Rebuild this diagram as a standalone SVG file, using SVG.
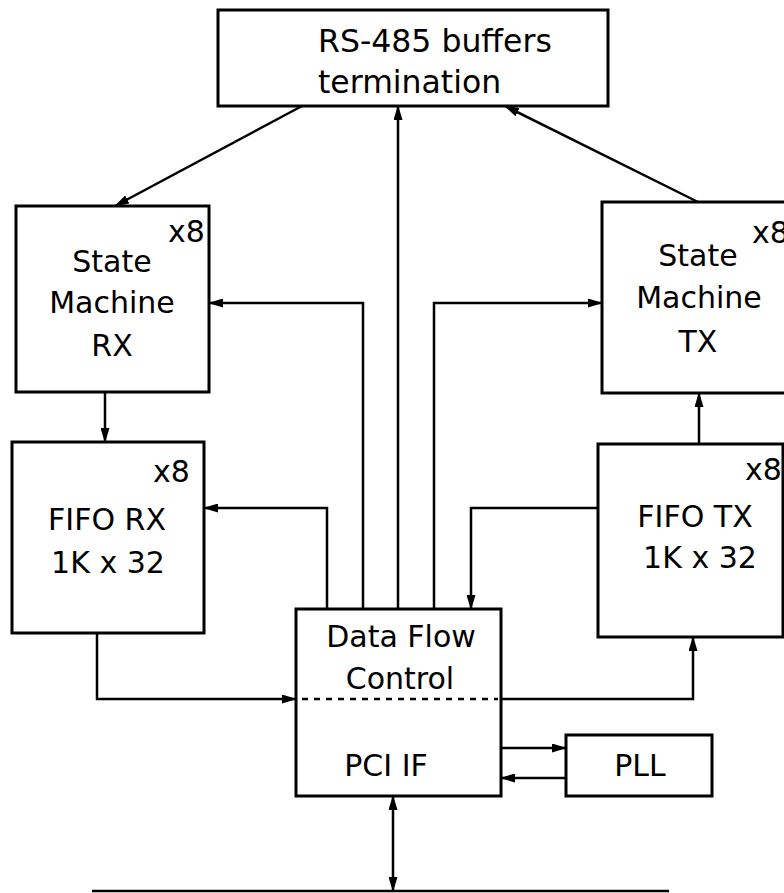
<svg xmlns="http://www.w3.org/2000/svg" width="784" height="893" viewBox="0 0 784 893">
<defs>
<marker id="ah" markerWidth="15" markerHeight="9" refX="14" refY="4.5" orient="auto" markerUnits="userSpaceOnUse">
<path d="M0,0 L15,4.5 L0,9 z" fill="#000"/>
</marker>
<marker id="ahs" markerWidth="15" markerHeight="9" refX="1" refY="4.5" orient="auto" markerUnits="userSpaceOnUse">
<path d="M15,0 L0,4.5 L15,9 z" fill="#000"/>
</marker>
</defs>
<style>
.box{fill:#fff;stroke:#000;stroke-width:3}
.t{font-family:"DejaVu Sans","Liberation Sans",sans-serif;font-size:30px;fill:#000}
.m{text-anchor:middle}
.c{fill:none;stroke:#000;stroke-width:2.5}
.a{marker-end:url(#ah)}
</style>
<rect width="784" height="893" fill="#fff"/>
<g id="connectors">
<path class="c a" d="M302,106 L115,206"/>
<path class="c a" d="M698,202 L505,106"/>
<path class="c a" d="M398,609 L398,106"/>
<path class="c a" d="M363,609 L363,303 L209,303"/>
<path class="c a" d="M434,609 L434,303 L602,303"/>
<path class="c a" d="M105,392 L105,442"/>
<path class="c a" d="M327,609 L327,508 L204,508"/>
<path class="c a" d="M598,508 L471,508 L471,609"/>
<path class="c a" d="M699,444 L699,393"/>
<path class="c a" d="M97,633 L97,699 L296,699"/>
<path class="c a" d="M501,699 L693,699 L693,637"/>
<path class="c a" d="M501,748 L566,748"/>
<path class="c a" d="M566,778 L501,778"/>
<path class="c a" d="M393,796 L393,891" style="marker-start:url(#ahs)"/>
<path class="c" d="M92,891 L669,891" stroke-width="3"/>
</g>
<g id="rs485">
<rect class="box" x="218" y="10" width="390" height="96"/>
<text class="t" x="318" y="52" style="font-size:31.5px">RS-485 buffers</text>
<text class="t" x="318" y="93" style="font-size:31.5px">termination</text>
</g>
<g id="sm_rx">
<rect class="box" x="16" y="206" width="193" height="186"/>
<text class="t" x="168" y="242">x8</text>
<text class="t m" x="112" y="272">State</text>
<text class="t m" x="112" y="313">Machine</text>
<text class="t m" x="112" y="356">RX</text>
</g>
<g id="sm_tx">
<rect class="box" x="602" y="202" width="195" height="191"/>
<text class="t" x="752" y="243">x8</text>
<text class="t m" x="698" y="266">State</text>
<text class="t m" x="699" y="308">Machine</text>
<text class="t m" x="698" y="352">TX</text>
</g>
<g id="fifo_rx">
<rect class="box" x="12" y="442" width="192" height="191"/>
<text class="t" x="153" y="482">x8</text>
<text class="t m" x="107" y="530">FIFO RX</text>
<text class="t m" x="108" y="573">1K x 32</text>
</g>
<g id="fifo_tx">
<rect class="box" x="598" y="444" width="185" height="193"/>
<text class="t" x="745" y="480">x8</text>
<text class="t m" x="695" y="527">FIFO TX</text>
<text class="t m" x="700" y="568">1K x 32</text>
</g>
<g id="dfc">
<rect class="box" x="296" y="609" width="205" height="187"/>
<line x1="299" y1="699" x2="498" y2="699" stroke="#000" stroke-width="2.5" stroke-dasharray="6 6" stroke-dashoffset="-3"/>
<text class="t m" x="401" y="647">Data Flow</text>
<text class="t m" x="400" y="689">Control</text>
<text class="t m" x="386" y="776">PCI IF</text>
</g>
<g id="pll">
<rect class="box" x="566" y="735" width="146" height="61"/>
<text class="t m" x="640" y="776">PLL</text>
</g>
</svg>
